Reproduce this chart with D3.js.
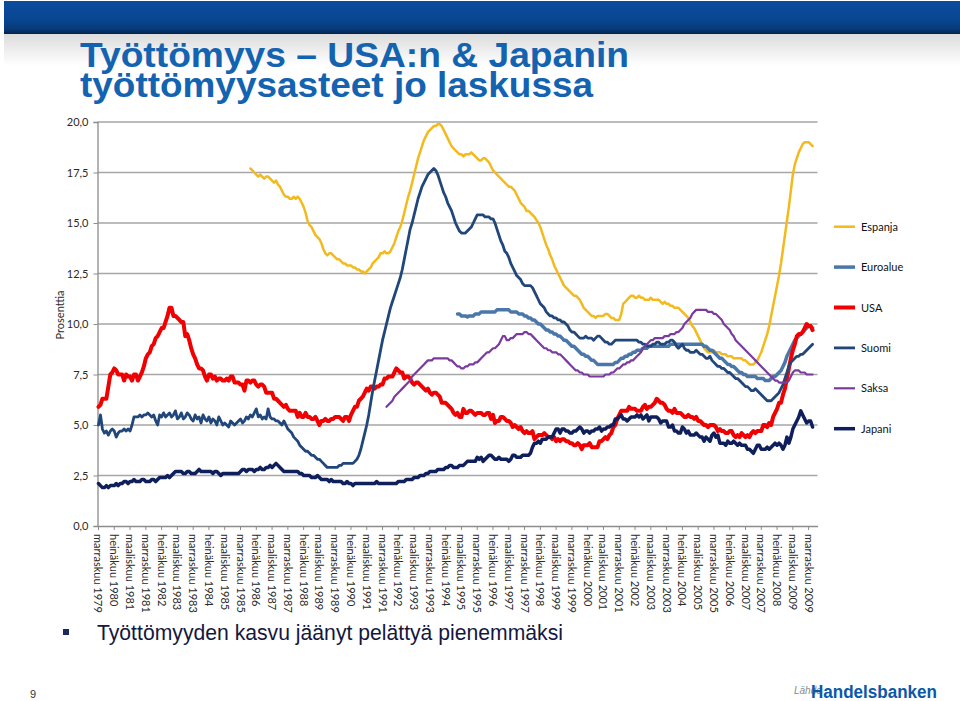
<!DOCTYPE html>
<html><head><meta charset="utf-8">
<script src="https://cdn.jsdelivr.net/npm/d3@7"></script>
<style>body{margin:0;background:#fff;}svg{display:block;}</style>
</head><body>
<svg id="c" width="960" height="701"></svg>
<script>
// ---- data ----
const monthNames = ["tammikuu","helmikuu","maaliskuu","huhtikuu","toukokuu","kesäkuu","heinäkuu","elokuu","syyskuu","lokakuu","marraskuu","joulukuu"];
const seriesNames  = ["Espanja","Euroalue","USA","Suomi","Saksa","Japani"];
const seriesColors = ["#F2BA1E","#4A77AA","#F00000","#21467A","#7A3AA0","#0E1F5B"];
const seriesWidths = [2.5,3.5,4,2.8,2.2,3.5];
const seriesStart  = ["huhtikuu 1986","tammikuu 1995","marraskuu 1979","marraskuu 1979","tammikuu 1992","marraskuu 1979"];

const espanja = [
17.7,17.6,17.5,17.4,17.3,17.4,17.3,17.2,17.3,
17.3,17.2,17.1,17.0,17.1,16.9,16.8,16.6,16.4,16.3,16.3,16.2,
16.2,16.3,16.2,16.3,16.2,16.0,15.8,15.5,15.1,14.9,14.8,14.6,
14.4,14.3,14.2,14.0,13.7,13.5,13.4,13.5,13.5,13.4,13.3,13.2,
13.2,13.1,13.0,13.0,12.9,12.9,12.9,12.8,12.8,12.7,12.7,12.6,
12.6,12.5,12.6,12.7,12.8,13.0,13.1,13.2,13.3,13.5,13.5,13.6,
13.5,13.5,13.6,13.8,14.0,14.3,14.6,14.8,15.1,15.5,15.9,16.3,
16.6,17.0,17.4,17.8,18.2,18.5,18.8,19.1,19.3,19.5,19.6,19.7,
19.8,19.8,19.9,19.9,19.8,19.6,19.4,19.2,19.0,18.8,18.7,18.6,
18.5,18.4,18.4,18.3,18.4,18.4,18.4,18.5,18.4,18.3,18.2,18.1,
18.1,18.2,18.2,18.1,18.0,17.8,17.6,17.5,17.4,17.3,17.2,17.1,
17.0,16.9,16.8,16.8,16.7,16.6,16.4,16.2,16.0,15.9,15.8,15.6,
15.6,15.5,15.4,15.3,15.15,15.0,14.8,14.5,14.2,13.9,13.7,13.4,
13.2,12.9,12.7,12.5,12.3,12.1,11.9,11.8,11.7,11.6,11.5,11.4,
11.4,11.3,11.2,11.0,10.8,10.7,10.6,10.5,10.4,10.4,10.3,10.4,
10.4,10.4,10.4,10.5,10.5,10.4,10.3,10.3,10.2,10.2,10.2,10.5,
11.0,11.1,11.2,11.3,11.4,11.4,11.3,11.3,11.4,11.3,11.3,11.2,
11.2,11.2,11.3,11.2,11.2,11.2,11.2,11.1,11.0,11.1,11.0,11.0,
10.9,10.9,10.8,10.8,10.8,10.7,10.6,10.5,10.4,10.3,10.1,9.9,
9.8,9.6,9.4,9.2,9.0,8.8,8.7,8.6,8.6,8.6,8.7,8.6,
8.6,8.6,8.5,8.5,8.5,8.4,8.4,8.4,8.3,8.3,8.3,8.3,
8.3,8.2,8.2,8.1,8.0,8.0,8.0,8.1,8.2,8.4,8.6,8.9,
9.2,9.5,9.9,10.4,10.9,11.4,11.9,12.4,13.0,13.7,14.4,15.1,
15.8,16.6,17.4,17.9,18.2,18.5,18.7,18.9,19.0,19.0,19.0,18.9,
18.8];

const euroalue = [
10.5,10.5,10.4,10.4,10.4,10.35,10.4,10.4,10.4,10.5,10.5,10.5,
10.6,10.6,10.6,10.6,10.6,10.6,10.6,10.6,10.7,10.7,10.7,10.7,
10.7,10.7,10.7,10.6,10.6,10.6,10.6,10.5,10.5,10.5,10.4,10.4,
10.3,10.3,10.2,10.2,10.1,10.0,10.0,9.9,9.8,9.7,9.7,9.6,
9.6,9.5,9.5,9.4,9.4,9.3,9.2,9.2,9.1,9.0,8.9,8.9,
8.8,8.7,8.6,8.5,8.5,8.4,8.4,8.3,8.2,8.2,8.1,8.0,
8.0,8.0,8.0,8.0,8.0,8.0,8.0,8.0,8.1,8.1,8.2,8.3,
8.3,8.4,8.4,8.5,8.5,8.6,8.6,8.7,8.7,8.7,8.8,8.8,
8.8,8.9,8.9,8.9,8.9,8.9,8.9,8.9,8.9,8.9,8.9,8.9,
9.0,9.0,9.0,9.0,9.0,9.0,9.0,9.0,9.0,9.0,9.0,9.0,
9.0,9.0,9.0,9.0,9.0,8.9,8.9,8.8,8.7,8.7,8.6,8.5,
8.4,8.3,8.3,8.2,8.1,8.0,8.0,7.9,7.9,7.8,7.7,7.6,
7.6,7.5,7.5,7.4,7.4,7.4,7.4,7.4,7.3,7.3,7.3,7.3,
7.2,7.2,7.2,7.3,7.4,7.4,7.5,7.6,7.7,7.9,8.1,8.4,
8.6,8.8,9.0,9.2,9.3,9.4,9.5,9.6,9.7,9.8,9.9,9.9,
9.8];

const usa = [
5.9,6.0,
6.3,6.3,6.3,6.9,7.5,7.6,7.8,7.7,7.5,7.5,7.5,7.2,
7.5,7.4,7.4,7.2,7.5,7.5,7.2,7.4,7.6,7.9,8.3,8.5,
8.6,8.9,9.0,9.3,9.4,9.6,9.8,9.8,10.1,10.4,10.8,10.8,
10.4,10.4,10.3,10.2,10.1,10.1,9.4,9.5,9.2,8.8,8.5,8.3,
8.0,7.8,7.8,7.7,7.4,7.2,7.5,7.5,7.3,7.4,7.2,7.3,
7.3,7.2,7.2,7.3,7.2,7.4,7.4,7.1,7.1,7.1,7.0,7.0,
6.7,7.2,7.2,7.1,7.2,7.2,7.0,6.9,7.0,7.0,6.9,6.6,
6.6,6.6,6.6,6.3,6.3,6.2,6.1,6.0,5.9,6.0,5.8,5.7,
5.7,5.7,5.7,5.4,5.6,5.4,5.4,5.6,5.4,5.4,5.3,5.3,
5.4,5.2,5.0,5.2,5.2,5.3,5.2,5.2,5.3,5.3,5.4,5.4,
5.4,5.3,5.2,5.4,5.4,5.2,5.5,5.7,5.9,5.9,6.2,6.3,
6.4,6.6,6.8,6.7,6.9,6.9,6.8,6.9,6.9,7.0,7.0,7.3,
7.3,7.4,7.4,7.4,7.6,7.8,7.7,7.6,7.6,7.3,7.4,7.4,
7.3,7.1,7.0,7.1,7.1,7.0,6.9,6.8,6.7,6.8,6.6,6.5,
6.6,6.6,6.5,6.4,6.1,6.1,6.1,6.0,5.9,5.8,5.6,5.5,
5.6,5.4,5.4,5.8,5.6,5.6,5.7,5.7,5.6,5.5,5.6,5.6,
5.6,5.5,5.5,5.6,5.6,5.3,5.5,5.1,5.2,5.2,5.4,5.4,
5.3,5.2,5.2,5.1,4.9,5.0,4.9,4.8,4.9,4.7,4.6,4.7,
4.6,4.6,4.7,4.3,4.4,4.5,4.5,4.5,4.6,4.5,4.4,4.4,
4.3,4.4,4.2,4.3,4.2,4.3,4.3,4.2,4.2,4.1,4.1,4.0,
4.0,4.1,4.0,3.8,4.0,4.0,4.0,4.1,3.9,3.9,3.9,3.9,
4.2,4.2,4.3,4.4,4.3,4.5,4.6,4.9,5.0,5.3,5.5,5.7,
5.7,5.7,5.7,5.9,5.8,5.8,5.8,5.7,5.7,5.7,5.9,6.0,
5.8,5.9,5.9,6.0,6.1,6.3,6.2,6.1,6.1,6.0,5.8,5.7,
5.7,5.6,5.8,5.6,5.6,5.6,5.5,5.4,5.4,5.5,5.4,5.4,
5.3,5.4,5.2,5.2,5.1,5.0,5.0,4.9,5.0,5.0,5.0,4.9,
4.7,4.8,4.7,4.7,4.6,4.6,4.7,4.7,4.5,4.4,4.5,4.4,
4.6,4.5,4.4,4.5,4.4,4.6,4.7,4.6,4.7,4.7,4.7,5.0,
5.0,4.9,5.1,5.0,5.4,5.6,5.8,6.1,6.1,6.5,6.8,7.3,
7.8,8.3,8.7,9.0,9.4,9.5,9.5,9.6,9.8,10.0,9.9,9.9,
9.7];

const suomi = [
5.0,5.5,
4.8,4.6,4.7,4.5,4.7,4.8,4.7,4.4,4.6,4.7,4.7,4.8,
4.7,4.8,4.7,5.0,5.4,5.4,5.4,5.5,5.4,5.5,5.5,5.6,
5.5,5.4,5.5,5.2,5.0,5.5,5.4,5.6,5.4,5.5,5.6,5.4,
5.5,5.7,5.3,5.4,5.6,5.3,5.4,5.6,5.5,5.3,5.2,5.5,
5.3,5.4,5.1,5.5,5.3,5.2,5.4,5.1,5.3,5.2,5.0,5.4,
5.2,5.0,5.1,5.0,4.9,5.2,5.1,5.0,5.1,5.2,5.3,5.1,
5.2,5.4,5.3,5.5,5.4,5.6,5.8,5.4,5.5,5.3,5.4,5.3,
5.8,5.4,5.3,5.3,5.2,5.2,5.1,5.0,5.2,5.0,4.8,4.7,
4.6,4.4,4.3,4.2,4.0,3.9,3.8,3.7,3.7,3.6,3.5,3.5,
3.4,3.3,3.3,3.2,3.1,3.0,2.9,2.9,2.9,2.9,2.9,2.9,
3.0,3.0,3.1,3.1,3.1,3.1,3.1,3.1,3.2,3.3,3.5,3.8,
4.2,4.6,5.0,5.5,6.1,6.7,7.2,7.7,8.2,8.7,9.2,9.6,
10.0,10.4,10.8,11.1,11.4,11.7,12.0,12.3,12.7,13.2,13.7,14.2,
14.7,15.0,15.4,15.8,16.2,16.5,16.8,17.0,17.2,17.4,17.5,17.6,
17.7,17.6,17.4,17.1,16.8,16.5,16.3,16.0,15.8,15.6,15.3,15.0,
14.8,14.6,14.5,14.5,14.5,14.6,14.7,14.8,15.0,15.2,15.4,15.4,
15.4,15.4,15.3,15.3,15.3,15.2,15.2,15.0,14.7,14.4,14.1,13.9,
13.6,13.5,13.3,13.0,12.8,12.6,12.4,12.3,12.2,12.0,11.9,11.9,
11.9,11.9,11.8,11.6,11.4,11.2,11.0,10.9,10.8,10.6,10.5,10.4,
10.4,10.3,10.3,10.2,10.2,10.1,10.1,10.0,9.9,9.7,9.6,9.6,
9.5,9.4,9.3,9.3,9.3,9.4,9.3,9.3,9.3,9.2,9.3,9.4,
9.4,9.3,9.2,9.1,9.1,9.0,9.0,9.1,9.2,9.2,9.2,9.2,
9.2,9.2,9.2,9.2,9.2,9.2,9.2,9.2,9.1,9.1,9.0,9.0,
8.9,8.9,8.9,9.0,9.0,9.1,9.1,9.0,9.0,9.0,9.1,9.1,
9.2,9.2,9.1,8.9,8.8,8.9,9.0,8.8,8.7,8.7,8.6,8.6,
8.6,8.7,8.6,8.5,8.5,8.4,8.3,8.3,8.4,8.2,8.1,8.0,
7.9,7.9,7.8,7.8,7.7,7.6,7.6,7.5,7.4,7.3,7.3,7.2,
7.1,7.0,6.9,6.9,6.8,6.7,6.7,6.8,6.7,6.6,6.5,6.4,
6.3,6.2,6.2,6.2,6.3,6.4,6.5,6.6,6.8,7.0,7.3,7.6,
7.9,8.1,8.2,8.3,8.4,8.4,8.5,8.5,8.6,8.7,8.8,8.9,
9.0];

const saksa = [
5.9,6.0,6.1,6.2,6.4,6.5,6.6,6.7,6.8,6.9,7.0,7.1,
7.2,7.4,7.5,7.6,7.7,7.8,7.9,8.0,8.1,8.2,8.2,8.2,
8.3,8.3,8.3,8.3,8.3,8.3,8.3,8.3,8.2,8.2,8.1,8.0,
7.9,7.9,7.8,7.8,7.9,7.9,8.0,8.0,8.0,8.1,8.1,8.2,
8.3,8.4,8.5,8.6,8.6,8.7,8.8,8.8,8.9,9.0,9.2,9.4,
9.4,9.2,9.2,9.3,9.3,9.4,9.5,9.5,9.5,9.5,9.6,9.6,
9.5,9.5,9.4,9.3,9.2,9.1,9.0,8.9,8.8,8.8,8.7,8.7,
8.6,8.6,8.6,8.5,8.5,8.4,8.3,8.2,8.1,8.0,7.9,7.8,
7.7,7.7,7.6,7.6,7.5,7.5,7.5,7.4,7.4,7.4,7.4,7.4,
7.4,7.4,7.4,7.5,7.5,7.5,7.6,7.6,7.7,7.8,7.8,7.9,
8.0,8.0,8.1,8.1,8.2,8.2,8.3,8.4,8.5,8.6,8.8,8.9,
9.0,9.1,9.2,9.2,9.3,9.3,9.3,9.3,9.3,9.4,9.4,9.4,
9.5,9.5,9.5,9.6,9.6,9.7,9.8,10.0,10.1,10.2,10.3,10.5,
10.6,10.7,10.7,10.7,10.7,10.7,10.7,10.6,10.6,10.6,10.5,10.5,
10.4,10.3,10.2,10.0,9.9,9.8,9.7,9.5,9.4,9.2,9.1,9.0,
8.9,8.8,8.7,8.6,8.5,8.4,8.3,8.2,8.1,8.0,7.9,7.8,
7.7,7.6,7.5,7.4,7.3,7.2,7.2,7.1,7.1,7.1,7.1,7.1,
7.2,7.4,7.6,7.7,7.7,7.7,7.6,7.6,7.6,7.5,7.5,7.5,
7.5];

const japani = [
2.1,2.0,
1.9,1.9,2.0,1.9,2.0,2.0,2.0,2.1,2.0,2.1,2.1,2.2,
2.2,2.1,2.2,2.2,2.3,2.2,2.2,2.2,2.3,2.3,2.2,2.2,
2.2,2.3,2.3,2.2,2.3,2.4,2.4,2.4,2.4,2.5,2.4,2.5,
2.6,2.7,2.7,2.7,2.7,2.6,2.6,2.7,2.7,2.6,2.6,2.6,
2.7,2.8,2.7,2.7,2.7,2.7,2.7,2.7,2.6,2.7,2.7,2.6,
2.5,2.6,2.6,2.6,2.6,2.6,2.6,2.6,2.6,2.6,2.7,2.8,
2.8,2.7,2.8,2.8,2.8,2.7,2.8,2.8,2.9,2.8,2.8,2.9,
2.9,3.0,2.9,3.0,3.1,3.0,2.9,2.8,2.7,2.7,2.7,2.7,
2.7,2.7,2.7,2.7,2.6,2.6,2.5,2.5,2.5,2.5,2.4,2.4,
2.4,2.5,2.4,2.3,2.3,2.3,2.3,2.2,2.3,2.2,2.2,2.2,
2.2,2.2,2.1,2.1,2.2,2.1,2.1,2.0,2.1,2.1,2.1,2.1,
2.1,2.1,2.1,2.1,2.1,2.1,2.1,2.2,2.1,2.1,2.1,2.1,
2.1,2.1,2.1,2.1,2.1,2.1,2.2,2.2,2.2,2.2,2.3,2.3,
2.3,2.3,2.4,2.4,2.4,2.5,2.5,2.5,2.6,2.6,2.7,2.7,
2.7,2.7,2.8,2.8,2.8,2.8,2.9,2.9,3.0,3.0,2.9,2.9,
2.9,3.0,3.0,3.0,3.1,3.2,3.2,3.2,3.2,3.2,3.4,3.3,
3.4,3.2,3.3,3.4,3.5,3.5,3.4,3.3,3.3,3.4,3.3,3.3,
3.3,3.3,3.2,3.3,3.5,3.5,3.4,3.4,3.4,3.5,3.5,3.5,
3.5,3.6,3.9,4.1,4.1,4.2,4.1,4.3,4.3,4.3,4.4,4.4,
4.4,4.6,4.8,4.8,4.6,4.8,4.8,4.7,4.7,4.6,4.6,4.7,
4.7,4.8,4.9,4.8,4.6,4.7,4.7,4.6,4.7,4.7,4.8,4.8,
4.9,4.7,4.8,4.8,4.9,4.9,5.0,5.0,5.3,5.3,5.4,5.5,
5.3,5.3,5.2,5.3,5.4,5.4,5.4,5.5,5.4,5.5,5.3,5.4,
5.5,5.2,5.4,5.4,5.4,5.4,5.3,5.1,5.2,5.2,5.2,4.9,
4.9,5.0,4.7,4.7,4.6,4.6,4.9,4.8,4.6,4.7,4.5,4.5,
4.5,4.6,4.5,4.4,4.4,4.2,4.4,4.3,4.2,4.5,4.6,4.4,
4.5,4.1,4.1,4.1,4.0,4.2,4.1,4.1,4.2,4.1,4.0,4.1,
4.0,4.0,4.0,3.8,3.8,3.7,3.6,3.8,4.0,4.0,3.8,3.8,
3.8,3.9,3.8,3.9,4.0,4.1,4.0,4.1,4.0,3.8,4.0,4.4,
4.1,4.4,4.8,5.0,5.2,5.4,5.7,5.5,5.3,5.1,5.2,5.2,
4.9];

const seriesValues = [espanja, euroalue, usa, suomi, saksa, japani];
const yTicks = [0,2.5,5,7.5,10,12.5,15,17.5,20];
const tickLabels = ["marraskuu 1979","heinäkuu 1980","maaliskuu 1981","marraskuu 1981","heinäkuu 1982","maaliskuu 1983","marraskuu 1983","heinäkuu 1984","maaliskuu 1985","marraskuu 1985","heinäkuu 1986","maaliskuu 1987","marraskuu 1987","heinäkuu 1988","maaliskuu 1989","marraskuu 1989","heinäkuu 1990","maaliskuu 1991","marraskuu 1991","heinäkuu 1992","maaliskuu 1993","marraskuu 1993","heinäkuu 1994","maaliskuu 1995","marraskuu 1995","heinäkuu 1996","maaliskuu 1997","marraskuu 1997","heinäkuu 1998","maaliskuu 1999","marraskuu 1999","heinäkuu 2000","maaliskuu 2001","marraskuu 2001","heinäkuu 2002","maaliskuu 2003","marraskuu 2003","heinäkuu 2004","maaliskuu 2005","marraskuu 2005","heinäkuu 2006","maaliskuu 2007","marraskuu 2007","heinäkuu 2008","maaliskuu 2009","marraskuu 2009"];

// category axis: monthly, Nov 1979 .. Mar 2010
const categories = d3.timeMonth.range(new Date(1979,10,1), new Date(2010,3,1))
  .map(d => monthNames[d.getMonth()] + " " + d.getFullYear());

// ---- drawing ----
const svg = d3.select("#c");
const defs = svg.append("defs");
const g1 = defs.append("linearGradient").attr("id","hdr").attr("x1",0).attr("y1",0).attr("x2",0).attr("y2",1);
[["0%","#0B4C9E"],["55%","#094692"],["85%","#063A78"],["100%","#03244A"]].forEach(s=>g1.append("stop").attr("offset",s[0]).attr("stop-color",s[1]));
const g2 = defs.append("linearGradient").attr("id","sub").attr("x1",0).attr("y1",0).attr("x2",0).attr("y2",1);
[["0%","#DCDCDC"],["100%","#FFFFFF"]].forEach(s=>g2.append("stop").attr("offset",s[0]).attr("stop-color",s[1]));

svg.append("rect").attr("x",0).attr("y",0).attr("width",960).attr("height",701).attr("fill","#fff");
svg.append("rect").attr("x",4).attr("y",1).attr("width",956).attr("height",33).attr("fill","url(#hdr)");
svg.append("rect").attr("x",4).attr("y",34).attr("width",956).attr("height",32).attr("fill","url(#sub)");

svg.append("text").attr("x",80).attr("y",67).attr("font-family","Liberation Sans, Arial, sans-serif")
  .attr("font-weight","bold").attr("font-size",35).attr("fill","#1363B1")
  .attr("textLength",549).attr("lengthAdjust","spacingAndGlyphs").text("Työttömyys – USA:n & Japanin");
svg.append("text").attr("x",80).attr("y",97).attr("font-family","Liberation Sans, Arial, sans-serif")
  .attr("font-weight","bold").attr("font-size",35).attr("fill","#1363B1")
  .attr("textLength",513).attr("lengthAdjust","spacingAndGlyphs").text("työttömyysasteet jo laskussa");

const x = d3.scaleBand().domain(categories).range([97.5, 817.5]).padding(0);
const y = d3.scaleLinear().domain([0,20]).range([526,122]);
const cx = c => x(c) + x.bandwidth()/2;
const fmt = d => d.toFixed(1).replace(".", ",");

const plot = svg.append("g");
// gridlines
plot.selectAll("line.grid").data(yTicks.slice(1)).join("line")
  .attr("x1",97.5).attr("x2",817.5).attr("y1",d=>y(d)).attr("y2",d=>y(d))
  .attr("stroke","#A6A6A6").attr("stroke-width",1.3);

// y axis
const ya = plot.append("g").attr("transform","translate(97.5,0)")
  .call(d3.axisLeft(y).tickValues(yTicks).tickFormat(fmt).tickSize(4).tickPadding(5));
ya.select(".domain").attr("stroke","#8C8C8C").attr("stroke-width",1.3);
ya.selectAll(".tick line").attr("stroke","#8C8C8C");
ya.selectAll("text").attr("font-family","Lato, sans-serif").attr("font-size",11).attr("fill","#2a2a2a");

// x axis
const xa = plot.append("g").attr("transform","translate(0,526)")
  .call(d3.axisBottom(x).tickValues(tickLabels).tickSize(4).tickSizeOuter(0));
xa.select(".domain").attr("stroke","#8C8C8C").attr("stroke-width",1.3);
xa.selectAll(".tick line").attr("stroke","#8C8C8C");
xa.selectAll(".tick text").attr("font-family","Lato, sans-serif").attr("font-size",11).attr("fill","#2a2a2a")
  .attr("text-anchor","start").attr("dy",null).attr("y",0)
  .attr("transform","translate(-4,8) rotate(90)");

svg.append("text").attr("transform","translate(64,315) rotate(-90)").attr("text-anchor","middle")
  .attr("font-family","Lato, sans-serif").attr("font-size",11).attr("fill","#2a2a2a").text("Prosenttia");

// series
const line = d3.line().x(d=>cx(d.c)).y(d=>y(d.v));
seriesNames.forEach((name,k)=>{
  const s0 = categories.indexOf(seriesStart[k]);
  const pts = seriesValues[k].map((v,j)=>({c:categories[s0+j], v}));
  plot.append("path").datum(pts).attr("d",line).attr("fill","none")
    .attr("stroke",seriesColors[k]).attr("stroke-width",seriesWidths[k])
    .attr("stroke-linejoin","round").attr("stroke-linecap","round");
});

// legend
const lg = svg.append("g");
seriesNames.forEach((name,k)=>{
  const yy = 226.7 + k*40.4;
  lg.append("line").attr("x1",834).attr("x2",855).attr("y1",yy).attr("y2",yy)
    .attr("stroke",seriesColors[k]).attr("stroke-width",seriesWidths[k]);
  lg.append("text").attr("x",861).attr("y",yy+4).attr("font-family","Lato, sans-serif")
    .attr("font-size",11).attr("fill","#111").text(name);
});

// bullet text
svg.append("rect").attr("x",63).attr("y",629).attr("width",6).attr("height",6).attr("fill","#1A2A5A");
svg.append("text").attr("x",97).attr("y",640).attr("font-family","Liberation Sans, Arial, sans-serif")
  .attr("font-size",22).attr("fill","#15173F").attr("textLength",466).attr("lengthAdjust","spacingAndGlyphs")
  .text("Työttömyyden kasvu jäänyt pelättyä pienemmäksi");

// footer
svg.append("text").attr("x",30).attr("y",698).attr("font-family","Liberation Sans, Arial, sans-serif")
  .attr("font-size",11).attr("fill","#333").text("9");
svg.append("text").attr("x",794).attr("y",694).attr("font-family","Liberation Sans, Arial, sans-serif")
  .attr("font-style","italic").attr("font-size",10).attr("fill","#8A8A8A").text("Lähde");
svg.append("text").attr("x",811).attr("y",698).attr("font-family","Liberation Sans, Arial, sans-serif")
  .attr("font-weight","bold").attr("font-size",18).attr("fill","#0B58A8")
  .attr("textLength",126).attr("lengthAdjust","spacingAndGlyphs").text("Handelsbanken");
</script>
</body></html>
